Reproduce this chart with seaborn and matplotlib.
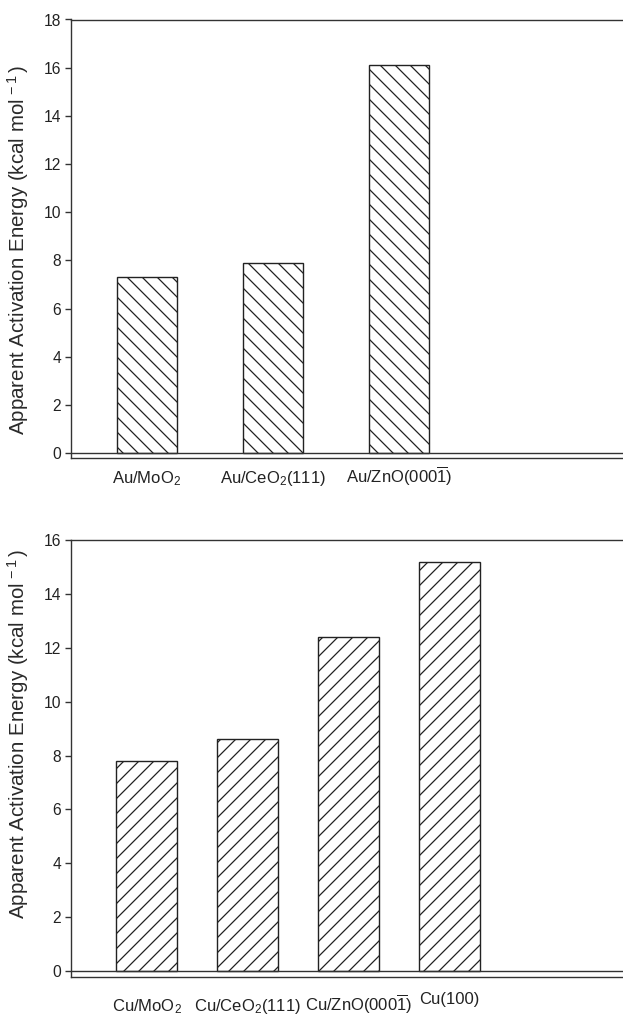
import matplotlib
matplotlib.use("Agg")
import matplotlib.pyplot as plt
import seaborn as sns
import pandas as pd

# Apparent activation energies (kcal/mol)
au_catalysts = ["Au/MoO$_2$", "Au/CeO$_2$(111)", "Au/ZnO(000$\\overline{1}$)"]
au_energy = [7.3, 7.9, 16.1]

cu_catalysts = ["Cu/MoO$_2$", "Cu/CeO$_2$(111)", "Cu/ZnO(000$\\overline{1}$)", "Cu(100)"]
cu_energy = [7.8, 8.6, 12.4, 15.2]

au_yticks = [0, 2, 4, 6, 8, 10, 12, 14, 16, 18]
cu_yticks = [0, 2, 4, 6, 8, 10, 12, 14, 16]

# figure resolution; sizes below are given as if at 100 dpi and rescaled
DPI = 90
S = 100 / DPI

sns.set_theme(style="white")
plt.rcParams["font.family"] = ["Liberation Sans", "DejaVu Sans"]
plt.rcParams["mathtext.fontset"] = "custom"
plt.rcParams["mathtext.rm"] = "Liberation Sans"
plt.rcParams["mathtext.it"] = "Liberation Sans:italic"
plt.rcParams["mathtext.bf"] = "Liberation Sans:bold"
plt.rcParams["hatch.linewidth"] = 0.9 * S
plt.rcParams["hatch.color"] = "#222222"

W, H = 623, 1015
fig = plt.figure(figsize=(W / DPI, H / DPI), dpi=DPI)

ax_au = fig.add_axes([71 / W, 1 - 458 / H, (W - 71) / W, (458 - 19.5) / H])
ax_cu = fig.add_axes([71 / W, 1 - 977 / H, (W - 71) / W, (977 - 540) / H])

SPINE = "#333333"
TEXT = "#222222"
YLABEL = "Apparent Activation Energy (kcal mol$^{\\,-1}\\,$)"


def draw_panel(ax, names, values, hatch, width, xlim, ylim, yticks,
               label_y, label_pad, label_dx, label_dy):
    df = pd.DataFrame({"catalyst": names, "energy": values})
    sns.barplot(data=df, x="catalyst", y="energy", color="white",
                edgecolor=TEXT, linewidth=1.0 * S, width=width,
                saturation=1, ax=ax)
    for p in ax.patches:
        p.set_hatch(hatch)
        p.set_facecolor("white")
    ax.set_xlim(*xlim)
    ax.set_ylim(*ylim)
    ax.set_yticks(yticks)
    ax.set_yticklabels([str(t) for t in yticks], fontsize=11.3 * S, color=TEXT)
    ax.set_xticks([])
    ax.set_xlabel("")
    ax.set_ylabel(YLABEL, fontsize=14.8 * S, color="#2a2a2a")
    ax.yaxis.set_label_coords(-0.0725, label_y)
    ax.tick_params(axis="y", direction="out", length=4 * S, width=1 * S,
                   color=SPINE, pad=3 * S, left=True)
    for side in ["left", "top", "bottom"]:
        ax.spines[side].set_color(SPINE)
        ax.spines[side].set_linewidth(1.0 * S)
    ax.spines["right"].set_visible(False)
    ax.axhline(0, color=SPINE, linewidth=1.0 * S, zorder=3)
    # category labels under the axis
    for i, name in enumerate(names):
        ax.annotate(name, xy=(i, 0), xycoords=("data", "axes fraction"),
                    xytext=(label_dx[i], -(label_pad + label_dy[i])),
                    textcoords="offset pixels", ha="center", va="baseline",
                    fontsize=12 * S, color=TEXT, annotation_clip=False)


draw_panel(ax_au, au_catalysts, au_energy, "\\\\", 0.476,
           (-0.603, 3.78), (-0.2, 18), au_yticks,
           0.474, 25, [0, 0, 0], [0, 0, 0])
draw_panel(ax_cu, cu_catalysts, cu_energy, "//", 0.60,
           (-0.75, 4.72), (-0.22, 16), cu_yticks,
           0.556, 34, [0, 0, 10, 0], [0, 0, 0, -7])

fig.savefig("out.png", dpi=DPI, facecolor="white")
